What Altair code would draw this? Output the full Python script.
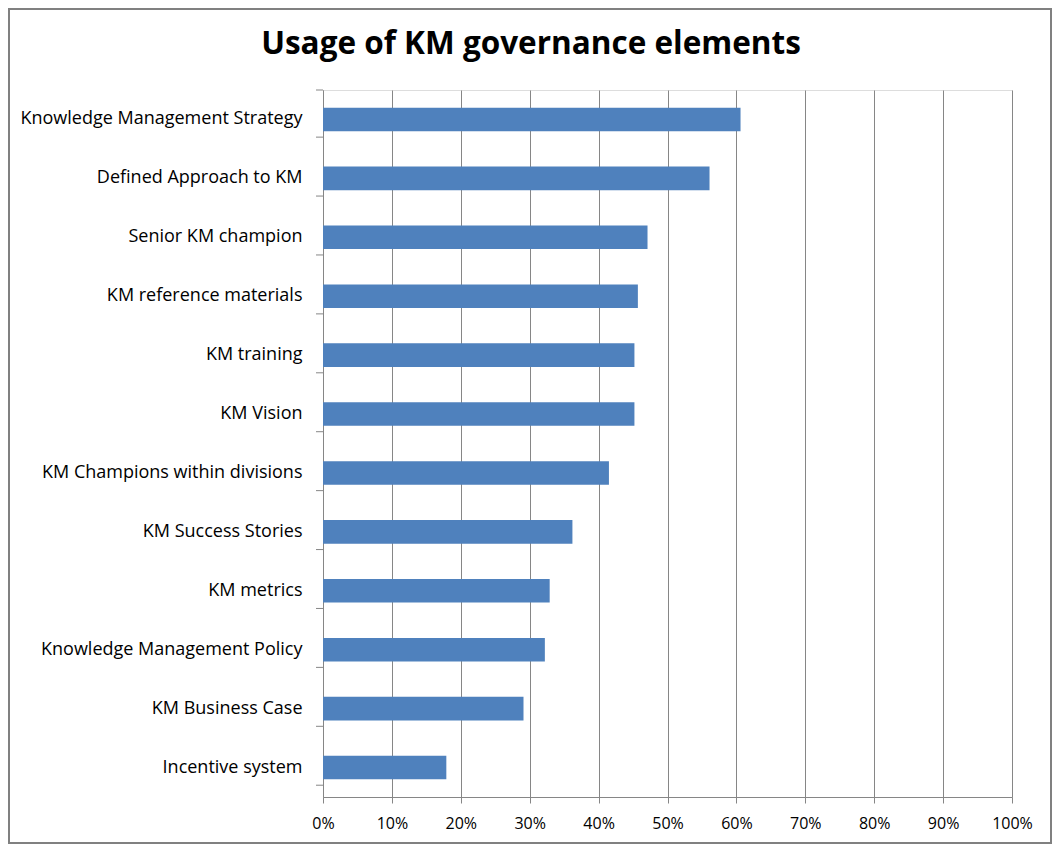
import altair as alt
import pandas as pd

categories = [
    "Knowledge Management Strategy",
    "Defined Approach to KM",
    "Senior KM champion",
    "KM reference  materials",
    "KM training",
    "KM Vision",
    "KM Champions within divisions",
    "KM Success Stories",
    "KM metrics",
    "Knowledge Management Policy",
    "KM Business Case",
    "Incentive system",
]
values = [0.606, 0.561, 0.471, 0.457, 0.452, 0.452, 0.415, 0.362, 0.329, 0.322, 0.291, 0.179]
x_ticks = [0, 0.1, 0.2, 0.3, 0.4, 0.5, 0.6, 0.7, 0.8, 0.9, 1.0]
title_text = "Usage of KM governance elements"

df = pd.DataFrame({"element": categories, "usage": values})

FONT = "Open Sans"
W, H = 689, 707
PAD_L, PAD_T, PAD_R, PAD_B = 315, 82, 40, 47
STEP = H / len(categories)
GRAY = "#868686"

y_scale = alt.Scale(paddingInner=0.6, paddingOuter=0.3)
y_axis = alt.Axis(
    title=None, grid=False, ticks=False,
    domainColor=GRAY,
    labelFont=FONT, labelFontSize=18, labelColor="#000000",
    labelPadding=21, labelLimit=400,
)

bars = alt.Chart(df).mark_bar(color="#4F81BD").encode(
    x=alt.X(
        "usage:Q",
        scale=alt.Scale(domain=[0, 1], nice=False),
        axis=alt.Axis(
            values=x_ticks, format=".0%", title=None,
            grid=True, gridColor=GRAY, gridWidth=1,
            domainColor=GRAY, tickColor=GRAY, tickSize=6,
            labelFont=FONT, labelFontSize=16, labelColor="#000000",
            labelPadding=12, labelFlush=False, labelOverlap=False,
        ),
    ),
    y=alt.Y("element:N", sort=categories, scale=y_scale, axis=y_axis),
)

# category-boundary ticks on the y axis (below each band)
boundary_ticks = alt.Chart(df).mark_rule(color=GRAY, strokeWidth=1).encode(
    y=alt.Y("element:N", sort=categories, scale=y_scale, axis=y_axis,
            bandPosition=0.5),
    yOffset=alt.value(STEP / 2),
    x=alt.value(-7),
    x2=alt.value(0),
)

one = pd.DataFrame({"k": [0]})

top_tick = alt.Chart(one).mark_rule(color=GRAY, strokeWidth=1).encode(
    x=alt.value(-7), x2=alt.value(0), y=alt.value(0)
)

title = alt.Chart(one).mark_text(
    text=title_text, font=FONT, fontSize=31.5, fontWeight="bold",
    color="#000000", align="center", baseline="alphabetic",
).encode(x=alt.value(208), y=alt.value(-36))

frame = alt.Chart(one).mark_rect(
    fill="transparent", stroke="#808080", strokeWidth=2
).encode(
    x=alt.value(-PAD_L + 1),
    x2=alt.value(W + PAD_R - 1),
    y=alt.value(-PAD_T + 1),
    y2=alt.value(H + PAD_B - 1),
)

chart = alt.layer(bars, boundary_ticks, top_tick, title, frame).properties(
    width=W,
    height=H,
    autosize=alt.AutoSizeParams(type="none"),
    padding={"left": PAD_L, "top": PAD_T, "right": PAD_R, "bottom": PAD_B},
).configure_view(stroke="transparent", strokeWidth=0).configure(background="white")

chart.save("out.html", embed_options={"renderer": "svg", "actions": False})
